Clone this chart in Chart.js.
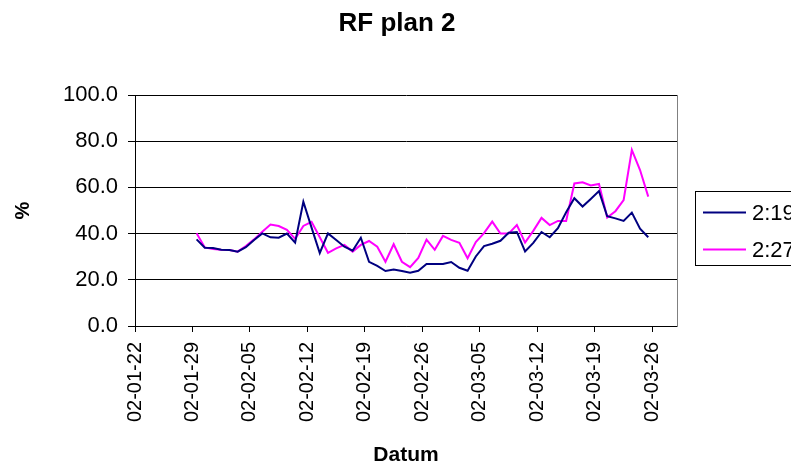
<!DOCTYPE html>
<html>
<head>
<meta charset="utf-8">
<title>RF plan 2</title>
<script src="https://cdn.jsdelivr.net/npm/chart.js@4.4.0/dist/chart.umd.min.js"></script>
<style>
  html, body { margin: 0; padding: 0; background: #fff; overflow: hidden; }
  canvas { display: block; }
</style>
</head>
<body>
<canvas id="rfChart" width="791" height="468"></canvas>
<script>
// ===============================
// DATA
// ===============================
const dates = [
  "02-01-29", "02-01-30", "02-01-31",
  "02-02-01", "02-02-02", "02-02-03", "02-02-04", "02-02-05", "02-02-06", "02-02-07",
  "02-02-08", "02-02-09", "02-02-10", "02-02-11", "02-02-12", "02-02-13", "02-02-14",
  "02-02-15", "02-02-16", "02-02-17", "02-02-18", "02-02-19", "02-02-20", "02-02-21",
  "02-02-22", "02-02-23", "02-02-24", "02-02-25", "02-02-26", "02-02-27", "02-02-28",
  "02-03-01", "02-03-02", "02-03-03", "02-03-04", "02-03-05", "02-03-06", "02-03-07",
  "02-03-08", "02-03-09", "02-03-10", "02-03-11", "02-03-12", "02-03-13", "02-03-14",
  "02-03-15", "02-03-16", "02-03-17", "02-03-18", "02-03-19", "02-03-20", "02-03-21",
  "02-03-22", "02-03-23", "02-03-24", "02-03-25"
];

const plan219 = [
  37.5, 33.9, 33.8, 33.0, 32.9, 32.2, 34.1, 37.2, 40.1, 38.4,
  38.2, 40.0, 36.1, 53.8, 42.6, 31.6, 40.1, 37.2, 34.3, 32.6,
  38.2, 27.8, 26.0, 23.8, 24.5, 23.8, 23.1, 23.9, 26.8, 26.8,
  26.8, 27.7, 25.2, 23.9, 30.1, 34.6, 35.6, 36.9, 40.4, 40.7,
  32.3, 36.0, 40.7, 38.4, 42.3, 49.2, 55.3, 51.7, 55.0, 58.4,
  47.5, 46.6, 45.5, 49.1, 42.1, 38.4
];

const plan227 = [
  40.1, 34.0, 33.3, 33.0, 32.9, 32.2, 34.6, 37.5, 40.8, 43.9,
  43.3, 41.6, 37.7, 43.3, 45.1, 38.4, 31.7, 33.6, 35.1, 32.2,
  35.1, 36.8, 34.3, 27.8, 35.4, 27.8, 25.5, 29.5, 37.4, 33.0,
  39.0, 37.3, 36.0, 29.3, 36.3, 40.2, 45.2, 40.0, 40.0, 43.7,
  36.1, 41.2, 46.8, 43.7, 45.5, 45.5, 61.7, 62.2, 60.8, 61.5,
  47.0, 49.7, 54.5, 76.2, 67.5, 56.0
];

const tickLabels = [
  "02-01-22", "02-01-29", "02-02-05", "02-02-12", "02-02-19",
  "02-02-26", "02-03-05", "02-03-12", "02-03-19", "02-03-26"
];

const seriesNames = ["2:19", "2:27"];
const seriesColors = ["#000080", "#FF00FF"];
const chartTitle = "RF plan 2";

const FONT = "'Liberation Sans', Arial, Helvetica, sans-serif";

// days counted from the first axis label
const startDay = Date.UTC(2002, 0, 22);
function dayNumber(label) {
  const [yy, mm, dd] = label.split("-").map(Number);
  return (Date.UTC(2000 + yy, mm - 1, dd) - startDay) / 864e5;
}

// points sit in the middle of their day
function toPoints(values) {
  return values.map((v, i) => ({ x: dayNumber(dates[i]) + 0.5, y: v }));
}

// ===============================
// PLUGINS
// ===============================
// title is centred on the whole picture, not on the plot
const pageTitle = {
  id: "pageTitle",
  afterDraw(chart) {
    const ctx = chart.ctx;
    ctx.save();
    ctx.fillStyle = "#000";
    ctx.font = "bold 26px " + FONT;
    ctx.textAlign = "center";
    ctx.textBaseline = "middle";
    ctx.fillText(chartTitle, 397, 24);
    ctx.restore();
  }
};

const plotBorder = {
  id: "plotBorder",
  afterDatasetsDraw(chart) {
    const { ctx, chartArea } = chart;
    const x = Math.round(chartArea.right) + 0.5;
    ctx.save();
    ctx.strokeStyle = "#808080";
    ctx.lineWidth = 1;
    ctx.beginPath();
    ctx.moveTo(x, chartArea.top);
    ctx.lineTo(x, chartArea.bottom + 1);
    ctx.stroke();
    ctx.restore();
  }
};

const sideLegend = {
  id: "sideLegend",
  afterDraw(chart) {
    const ctx = chart.ctx;
    ctx.save();
    ctx.fillStyle = "#fff";
    ctx.strokeStyle = "#000";
    ctx.lineWidth = 1;
    ctx.fillRect(695.5, 191.5, 140, 74);
    ctx.strokeRect(695.5, 191.5, 140, 74);

    ctx.font = "22px " + FONT;
    ctx.textBaseline = "middle";
    ctx.textAlign = "left";
    chart.data.datasets.forEach((ds, i) => {
      const y = 212.5 + i * 37;
      ctx.strokeStyle = ds.borderColor;
      ctx.lineWidth = 2;
      ctx.beginPath();
      ctx.moveTo(703, y);
      ctx.lineTo(746, y);
      ctx.stroke();
      ctx.fillStyle = "#000";
      ctx.fillText(ds.label, 752, y + 1);
    });
    ctx.restore();
  }
};

// ===============================
// CHART
// ===============================
new Chart(document.getElementById("rfChart"), {
  type: "line",
  data: {
    datasets: [
      {
        label: seriesNames[0],
        data: toPoints(plan219),
        borderColor: seriesColors[0],
        backgroundColor: seriesColors[0],
        borderWidth: 2,
        pointRadius: 0,
        tension: 0
      },
      {
        label: seriesNames[1],
        data: toPoints(plan227),
        borderColor: seriesColors[1],
        backgroundColor: seriesColors[1],
        borderWidth: 2,
        pointRadius: 0,
        tension: 0
      }
    ]
  },
  options: {
    responsive: false,
    animation: false,
    layout: { padding: { left: 0, right: 114, top: 95, bottom: 0 } },
    plugins: {
      legend: { display: false },
      tooltip: { enabled: false },
      title: { display: false }
    },
    scales: {
      x: {
        type: "linear",
        min: 0,
        max: 66,
        afterBuildTicks(scale) {
          scale.ticks = tickLabels.map(l => ({ value: dayNumber(l) }));
        },
        afterFit(scale) {
          scale.height = 142;
        },
        ticks: {
          autoSkip: false,
          minRotation: 90,
          maxRotation: 90,
          padding: 10,
          color: "#000",
          font: { family: FONT, size: 20 },
          callback(value) {
            const hit = tickLabels.find(l => dayNumber(l) === value);
            return hit || "";
          }
        },
        grid: {
          drawOnChartArea: false,
          drawTicks: true,
          tickLength: 6,
          color: "#000"
        },
        border: { color: "#000", width: 1 },
        title: {
          display: true,
          text: "Datum",
          color: "#000",
          font: { family: FONT, size: 21, weight: "bold" },
          padding: { top: 0, bottom: 0 }
        }
      },
      y: {
        min: 0,
        max: 100,
        afterFit(scale) {
          scale.width = 135;
        },
        ticks: {
          stepSize: 20,
          padding: 10,
          color: "#000",
          font: { family: FONT, size: 22 },
          callback: value => Number(value).toFixed(1)
        },
        grid: {
          color: "#000",
          lineWidth: 1,
          tickLength: 7,
          drawTicks: true
        },
        border: { color: "#000", width: 1 },
        title: {
          display: true,
          text: "%",
          color: "#000",
          font: { family: FONT, size: 20, weight: "bold" },
          padding: { top: 11, bottom: 0 }
        }
      }
    }
  },
  plugins: [pageTitle, plotBorder, sideLegend]
});
</script>
</body>
</html>
